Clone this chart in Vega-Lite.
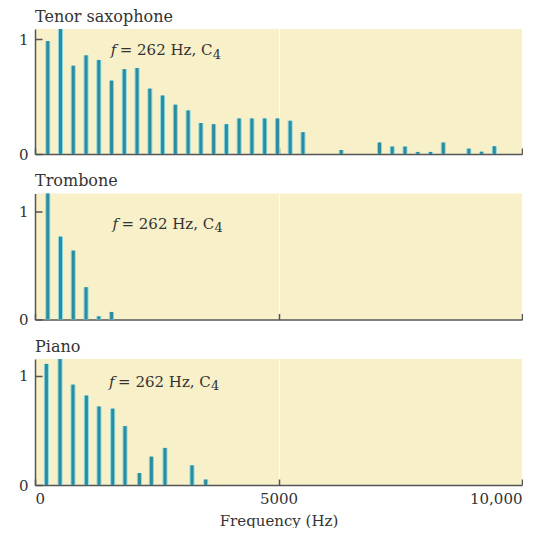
{
  "$schema": "https://vega.github.io/schema/vega-lite/v6.json",
  "padding": {"left": 18, "top": 8, "right": 0, "bottom": 0},
  "background": "white",
  "bounds": "flush",
  "spacing": 39.5,
  "config": {
    "view": {"fill": "#f8f0c8", "stroke": null},
    "axis": {
      "labelFont": "DejaVu Serif", "titleFont": "DejaVu Serif",
      "labelFontSize": 15, "titleFontSize": 15, "titleFontWeight": "normal",
      "labelColor": "#333333", "titleColor": "#333333",
      "domainColor": "#555555", "tickColor": "#555555",
      "domainWidth": 1.5, "tickWidth": 1.5
    },
    "title": {"font": "DejaVu Serif", "fontSize": 16, "fontWeight": "normal", "anchor": "start", "frame": "group", "color": "#333333", "offset": 2},
    "text": {"font": "DejaVu Serif", "fontSize": 15, "color": "#333333"}
  },
  "datasets": {
    "spectra": [
      {"instrument": "Tenor saxophone", "harmonic": 1, "frequency": 262, "amplitude": 0.985},
      {"instrument": "Tenor saxophone", "harmonic": 2, "frequency": 524, "amplitude": 1.09},
      {"instrument": "Tenor saxophone", "harmonic": 3, "frequency": 786, "amplitude": 0.77},
      {"instrument": "Tenor saxophone", "harmonic": 4, "frequency": 1048, "amplitude": 0.86},
      {"instrument": "Tenor saxophone", "harmonic": 5, "frequency": 1310, "amplitude": 0.82},
      {"instrument": "Tenor saxophone", "harmonic": 6, "frequency": 1572, "amplitude": 0.64},
      {"instrument": "Tenor saxophone", "harmonic": 7, "frequency": 1834, "amplitude": 0.74},
      {"instrument": "Tenor saxophone", "harmonic": 8, "frequency": 2096, "amplitude": 0.75},
      {"instrument": "Tenor saxophone", "harmonic": 9, "frequency": 2358, "amplitude": 0.57},
      {"instrument": "Tenor saxophone", "harmonic": 10, "frequency": 2620, "amplitude": 0.51},
      {"instrument": "Tenor saxophone", "harmonic": 11, "frequency": 2882, "amplitude": 0.43},
      {"instrument": "Tenor saxophone", "harmonic": 12, "frequency": 3144, "amplitude": 0.38},
      {"instrument": "Tenor saxophone", "harmonic": 13, "frequency": 3406, "amplitude": 0.27},
      {"instrument": "Tenor saxophone", "harmonic": 14, "frequency": 3668, "amplitude": 0.26},
      {"instrument": "Tenor saxophone", "harmonic": 15, "frequency": 3930, "amplitude": 0.26},
      {"instrument": "Tenor saxophone", "harmonic": 16, "frequency": 4192, "amplitude": 0.31},
      {"instrument": "Tenor saxophone", "harmonic": 17, "frequency": 4454, "amplitude": 0.31},
      {"instrument": "Tenor saxophone", "harmonic": 18, "frequency": 4716, "amplitude": 0.31},
      {"instrument": "Tenor saxophone", "harmonic": 19, "frequency": 4978, "amplitude": 0.31},
      {"instrument": "Tenor saxophone", "harmonic": 20, "frequency": 5240, "amplitude": 0.29},
      {"instrument": "Tenor saxophone", "harmonic": 21, "frequency": 5502, "amplitude": 0.19},
      {"instrument": "Tenor saxophone", "harmonic": 24, "frequency": 6288, "amplitude": 0.035},
      {"instrument": "Tenor saxophone", "harmonic": 27, "frequency": 7074, "amplitude": 0.1},
      {"instrument": "Tenor saxophone", "harmonic": 28, "frequency": 7336, "amplitude": 0.065},
      {"instrument": "Tenor saxophone", "harmonic": 29, "frequency": 7598, "amplitude": 0.065},
      {"instrument": "Tenor saxophone", "harmonic": 30, "frequency": 7860, "amplitude": 0.018},
      {"instrument": "Tenor saxophone", "harmonic": 31, "frequency": 8122, "amplitude": 0.018},
      {"instrument": "Tenor saxophone", "harmonic": 32, "frequency": 8384, "amplitude": 0.1},
      {"instrument": "Tenor saxophone", "harmonic": 34, "frequency": 8908, "amplitude": 0.047},
      {"instrument": "Tenor saxophone", "harmonic": 35, "frequency": 9170, "amplitude": 0.02},
      {"instrument": "Tenor saxophone", "harmonic": 36, "frequency": 9432, "amplitude": 0.068},
      {"instrument": "Trombone", "harmonic": 1, "frequency": 262, "amplitude": 1.17},
      {"instrument": "Trombone", "harmonic": 2, "frequency": 524, "amplitude": 0.77},
      {"instrument": "Trombone", "harmonic": 3, "frequency": 786, "amplitude": 0.64},
      {"instrument": "Trombone", "harmonic": 4, "frequency": 1048, "amplitude": 0.3},
      {"instrument": "Trombone", "harmonic": 5, "frequency": 1310, "amplitude": 0.03},
      {"instrument": "Trombone", "harmonic": 6, "frequency": 1572, "amplitude": 0.07},
      {"instrument": "Piano", "harmonic": 1, "frequency": 234, "amplitude": 1.11},
      {"instrument": "Piano", "harmonic": 2, "frequency": 514, "amplitude": 1.155},
      {"instrument": "Piano", "harmonic": 3, "frequency": 780, "amplitude": 0.92},
      {"instrument": "Piano", "harmonic": 4, "frequency": 1055, "amplitude": 0.82},
      {"instrument": "Piano", "harmonic": 5, "frequency": 1314, "amplitude": 0.72},
      {"instrument": "Piano", "harmonic": 6, "frequency": 1595, "amplitude": 0.7},
      {"instrument": "Piano", "harmonic": 7, "frequency": 1848, "amplitude": 0.54},
      {"instrument": "Piano", "harmonic": 8, "frequency": 2144, "amplitude": 0.11},
      {"instrument": "Piano", "harmonic": 9, "frequency": 2390, "amplitude": 0.26},
      {"instrument": "Piano", "harmonic": 10, "frequency": 2669, "amplitude": 0.34},
      {"instrument": "Piano", "harmonic": 12, "frequency": 3224, "amplitude": 0.18},
      {"instrument": "Piano", "harmonic": 13, "frequency": 3505, "amplitude": 0.05}
    ]
  },
  "data": {"name": "spectra"},
  "vconcat": [
    {
      "width": 487, "height": 125,
      "title": {"text": "Tenor saxophone"},
      "layer": [
        {
          "transform": [{"filter": "datum.instrument === 'Tenor saxophone'"}],
          "mark": {"type": "rule", "strokeWidth": 5, "color": "#8ad6de"},
          "encoding": {
            "x": {"field": "frequency", "type": "quantitative", "scale": {"domain": [0, 10000], "nice": false},
                  "axis": {"values": [0, 5000, 10000], "labels": false, "title": null, "tickSize": -6, "grid": true, "gridColor": "#ffffff", "gridOpacity": 0.8}},
            "y": {"field": "amplitude", "type": "quantitative", "scale": {"domain": [0, 1.09], "nice": false},
                  "axis": {"values": [0, 1], "format": "d", "title": null, "tickSize": -7, "labelPadding": 14, "grid": false}},
            "y2": {"datum": 0}
          }
        },
        {
          "transform": [{"filter": "datum.instrument === 'Tenor saxophone'"}],
          "mark": {"type": "rule", "strokeWidth": 3, "color": "#2a8c9e"},
          "encoding": {
            "x": {"field": "frequency", "type": "quantitative"},
            "y": {"field": "amplitude", "type": "quantitative"},
            "y2": {"datum": 0}
          }
        },
        {
          "data": {"values": [{}]},
          "mark": {"type": "text", "text": "f", "fontStyle": "italic", "align": "left", "baseline": "alphabetic"},
          "encoding": {"x": {"datum": 1554, "type": "quantitative"}, "y": {"datum": 0.86, "type": "quantitative"}}
        },
        {
          "data": {"values": [{}]},
          "mark": {"type": "text", "text": "= 262 Hz, C", "align": "left", "baseline": "alphabetic"},
          "encoding": {"x": {"datum": 1740, "type": "quantitative"}, "y": {"datum": 0.86, "type": "quantitative"}}
        },
        {
          "data": {"values": [{}]},
          "mark": {"type": "text", "text": "4", "align": "left", "baseline": "alphabetic", "fontSize": 13},
          "encoding": {"x": {"datum": 3650, "type": "quantitative"}, "y": {"datum": 0.83, "type": "quantitative"}}
        }
      ]
    },
    {
      "width": 487, "height": 126,
      "title": {"text": "Trombone"},
      "layer": [
        {
          "transform": [{"filter": "datum.instrument === 'Trombone'"}],
          "mark": {"type": "rule", "strokeWidth": 5, "color": "#8ad6de"},
          "encoding": {
            "x": {"field": "frequency", "type": "quantitative", "scale": {"domain": [0, 10000], "nice": false},
                  "axis": {"values": [0, 5000, 10000], "labels": false, "title": null, "tickSize": -6, "grid": true, "gridColor": "#ffffff", "gridOpacity": 0.8}},
            "y": {"field": "amplitude", "type": "quantitative", "scale": {"domain": [0, 1.17], "nice": false},
                  "axis": {"values": [0, 1], "format": "d", "title": null, "tickSize": -7, "labelPadding": 14, "grid": false}},
            "y2": {"datum": 0}
          }
        },
        {
          "transform": [{"filter": "datum.instrument === 'Trombone'"}],
          "mark": {"type": "rule", "strokeWidth": 3, "color": "#2a8c9e"},
          "encoding": {
            "x": {"field": "frequency", "type": "quantitative"},
            "y": {"field": "amplitude", "type": "quantitative"},
            "y2": {"datum": 0}
          }
        },
        {
          "data": {"values": [{}]},
          "mark": {"type": "text", "text": "f", "fontStyle": "italic", "align": "left", "baseline": "alphabetic"},
          "encoding": {"x": {"datum": 1590, "type": "quantitative"}, "y": {"datum": 0.845, "type": "quantitative"}}
        },
        {
          "data": {"values": [{}]},
          "mark": {"type": "text", "text": "= 262 Hz, C", "align": "left", "baseline": "alphabetic"},
          "encoding": {"x": {"datum": 1776, "type": "quantitative"}, "y": {"datum": 0.845, "type": "quantitative"}}
        },
        {
          "data": {"values": [{}]},
          "mark": {"type": "text", "text": "4", "align": "left", "baseline": "alphabetic", "fontSize": 13},
          "encoding": {"x": {"datum": 3686, "type": "quantitative"}, "y": {"datum": 0.815, "type": "quantitative"}}
        }
      ]
    },
    {
      "width": 487, "height": 126,
      "title": {"text": "Piano"},
      "layer": [
        {
          "transform": [{"filter": "datum.instrument === 'Piano'"}],
          "mark": {"type": "rule", "strokeWidth": 5, "color": "#8ad6de"},
          "encoding": {
            "x": {"field": "frequency", "type": "quantitative", "scale": {"domain": [0, 10000], "nice": false},
                  "axis": {"values": [0, 5000, 10000], "labels": true, "labelExpr": "datum.value === 10000 ? '10,000' : '' + datum.value", "labelPadding": 12, "title": "Frequency (Hz)", "titlePadding": 7, "tickSize": -6, "grid": true, "gridColor": "#ffffff", "gridOpacity": 0.8}},
            "y": {"field": "amplitude", "type": "quantitative", "scale": {"domain": [0, 1.155], "nice": false},
                  "axis": {"values": [0, 1], "format": "d", "title": null, "tickSize": -7, "labelPadding": 14, "grid": false}},
            "y2": {"datum": 0}
          }
        },
        {
          "transform": [{"filter": "datum.instrument === 'Piano'"}],
          "mark": {"type": "rule", "strokeWidth": 3, "color": "#2a8c9e"},
          "encoding": {
            "x": {"field": "frequency", "type": "quantitative"},
            "y": {"field": "amplitude", "type": "quantitative"},
            "y2": {"datum": 0}
          }
        },
        {
          "data": {"values": [{}]},
          "mark": {"type": "text", "text": "f", "fontStyle": "italic", "align": "left", "baseline": "alphabetic"},
          "encoding": {"x": {"datum": 1520, "type": "quantitative"}, "y": {"datum": 0.9, "type": "quantitative"}}
        },
        {
          "data": {"values": [{}]},
          "mark": {"type": "text", "text": "= 262 Hz, C", "align": "left", "baseline": "alphabetic"},
          "encoding": {"x": {"datum": 1706, "type": "quantitative"}, "y": {"datum": 0.9, "type": "quantitative"}}
        },
        {
          "data": {"values": [{}]},
          "mark": {"type": "text", "text": "4", "align": "left", "baseline": "alphabetic", "fontSize": 13},
          "encoding": {"x": {"datum": 3616, "type": "quantitative"}, "y": {"datum": 0.87, "type": "quantitative"}}
        }
      ]
    }
  ]
}
